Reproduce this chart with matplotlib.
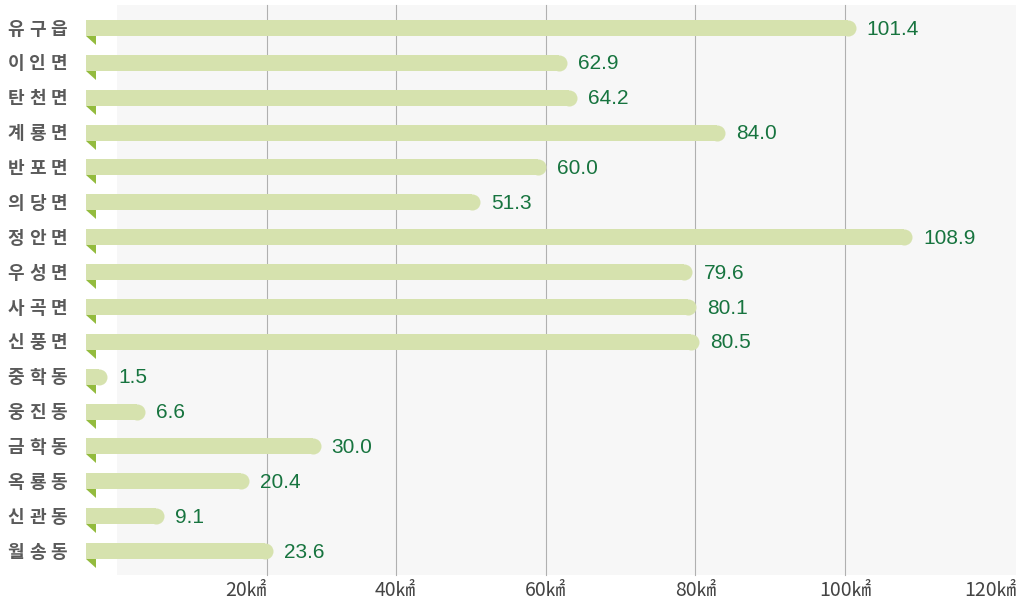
import matplotlib.pyplot as plt
from matplotlib.patches import Polygon, Rectangle

plt.rcParams['font.family'] = ['Noto Sans CJK KR', 'DejaVu Sans']

areas = ['유구읍', '이인면', '탄천면', '계룡면', '반포면', '의당면', '정안면', '우성면',
         '사곡면', '신풍면', '중학동', '웅진동', '금학동', '옥룡동', '신관동', '월송동']
values = [101.4, 62.9, 64.2, 84.0, 60.0, 51.3, 108.9, 79.6,
          80.1, 80.5, 1.5, 6.6, 30.0, 20.4, 9.1, 23.6]
ticks = [20, 40, 60, 80, 100, 120]
tick_labels = ['20㎢', '40㎢', '60㎢', '80㎢', '100㎢', '120㎢']
grid_x = [22.8, 40, 60, 80, 100]

px = 7.495          # pixels per km²
row_px = 34.87      # pixels per row
bar_left = -1.3
bar_h = 16 / row_px
cap = 8 / px

fig = plt.figure(figsize=(10.16, 6.02), dpi=100)
ax = fig.add_axes([0, 0, 1, 1])
ax.set_xlim(-95.8 / px, (1016 - 95.8) / px)
ax.set_ylim((602 - 28) / row_px, -28 / row_px)
ax.axis('off')

# grey panel
ax.add_patch(Rectangle((117 / px - 95.8 / px, -23 / row_px), 200, 570 / row_px,
                       facecolor='#f7f7f7', edgecolor='none', zorder=0))
for g in grid_x:
    ax.plot([g, g], [-23 / row_px, 547 / row_px], color='#b0b0b0', lw=0.8, zorder=1)

for i, (name, v) in enumerate(zip(areas, values)):
    ax.barh(i, v - cap - bar_left, left=bar_left, height=bar_h,
            color='#d6e2ae', zorder=3)
    ax.plot([v - cap], [i], marker='o', ms=16 * 0.72, mew=0,
            color='#d6e2ae', zorder=3)
    yb = i + bar_h / 2
    ax.add_patch(Polygon([(bar_left, yb), (0, yb), (0, yb + 9 / row_px)],
                         closed=True, facecolor='#93bb3e', edgecolor='none', zorder=3))
    ax.text(v + 11 / px, i + 0.03, f'{v:.1f}', color='#17743f', fontsize=15,
            family=['Liberation Sans', 'DejaVu Sans'], va='center', ha='left', zorder=4)
    for j, ch in enumerate(name):
        ax.annotate(ch, xy=(-95.8 / px, i + 0.03), xytext=((16 + j * 21.5) * 0.72, 0),
                    textcoords='offset points', ha='center', va='center',
                    fontsize=13, color='#5a5a5a', fontweight='bold')

for t, lab in zip(ticks, tick_labels):
    x = min(t, 119.3)
    ax.text(x, (591 - 28) / row_px, lab, ha='center', va='center',
            fontsize=14, color='#444444')

fig.savefig('out.png', dpi=100)
